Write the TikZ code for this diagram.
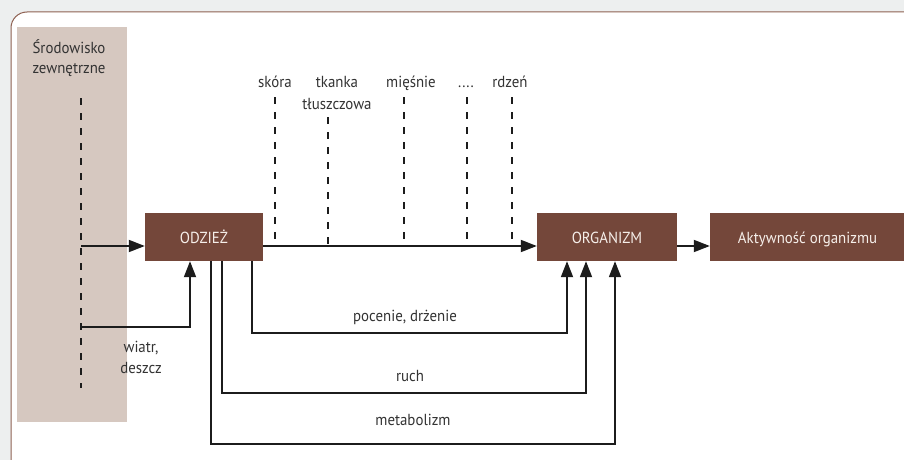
\documentclass[tikz,border=0pt]{standalone}
\usepackage{fontspec}
\setmainfont[FakeStretch=0.93]{PT Sans}
\usetikzlibrary{arrows.meta}
\definecolor{boxbrown}{HTML}{74473A}
\definecolor{boxtext}{HTML}{F6EFEA}
\definecolor{envfill}{HTML}{D6C8C0}
\definecolor{framecol}{HTML}{8E6152}
\definecolor{bggray}{HTML}{EDEFEF}
\definecolor{linecol}{HTML}{1C1C1C}
\definecolor{txtgray}{HTML}{333333}
\begin{document}
\begin{tikzpicture}[x=1pt,y=-1pt,
  box/.style={fill=boxbrown, text=boxtext, minimum height=48pt, inner sep=0pt,
    text height=12pt, text depth=0pt, font=\fontsize{16}{19}\selectfont},
  lbl/.style={text=txtgray, inner sep=0pt, anchor=base, font=\fontsize{16}{19}\selectfont},
  conn/.style={draw=linecol, line width=1.8pt, -{Triangle[length=16pt,width=12pt]}},
  wire/.style={draw=linecol, line width=1.8pt},
  dashline/.style={draw=linecol, line width=1.4pt, dash pattern=on 7pt off 8pt}]
\fill[bggray] (0,0) rectangle (904,460);
\useasboundingbox (0,0) rectangle (904,460);
\begin{scope}
  \clip (0,0) rectangle (904,460);
  \draw[draw=framecol, fill=white, line width=1pt, rounded corners=16pt] (11,12) rectangle (930,476);
\end{scope}
% environment column
\node[fill=envfill, anchor=north west, minimum width=110pt, minimum height=395pt, inner sep=0pt] (env) at (17,27) {};
\node[lbl] (envl1) at (69,53) {Środowisko};
\node[lbl] (envl2) at (69,74) {zewnętrzne};
\coordinate (ed1) at (81,98);
\coordinate (ed2) at (81,388);
\draw[dashline] (ed1) -- (ed2);
% boxes
\node[box, minimum width=118pt] (odz) at (204,237) {ODZIEŻ};
\node[box, minimum width=140pt] (org) at (607,237) {ORGANIZM};
\node[box, minimum width=195pt] (akt) at (807.5,237) {Aktywność organizmu};
% layer labels
\node[lbl] (skora) at (275,87) {skóra};
\node[lbl] (tkanka) at (337,87) {tkanka};
\node[lbl] (tluszcz) at (337,109) {tłuszczowa};
\node[lbl] (miesnie) at (411,87) {mięśnie};
\node[lbl] (dots) at (466,87) {....};
\node[lbl] (rdzen) at (510,87) {rdzeń};
\draw[dashline] (275,97) -- (275,246);
\draw[dashline] (328,117) -- (328,246);
\draw[dashline] (404,97) -- (404,246);
\draw[dashline] (467,97) -- (467,246);
\draw[dashline] (512,97) -- (512,246);
% arrows
\coordinate (ea) at (81,246);
\draw[conn] (ea) -- (ea -| odz.west);
\coordinate (eb) at (81,327);
\coordinate (wx) at (190,327);
\draw[conn] (eb) -- (wx) -- (wx |- odz.south);
\node[lbl] (wiatr) at (141,352) {wiatr,};
\node[lbl] (deszcz) at (141,373) {deszcz};
\draw[conn] (odz.east |- ea) -- (org.west |- ea);
\draw[conn] (org.east |- ea) -- (akt.west |- ea);
% feedback loops
\coordinate (p1) at (252,333);
\coordinate (p2) at (567,333);
\draw[conn] (p1 |- odz.south) -- (p1) -- (p2) -- (p2 |- org.south);
\node[lbl] (pocenie) at (405,321) {pocenie, drżenie};
\coordinate (r1) at (222,393);
\coordinate (r2) at (586,393);
\draw[conn] (r1 |- odz.south) -- (r1) -- (r2) -- (r2 |- org.south);
\node[lbl] (ruch) at (410,381) {ruch};
\coordinate (m1) at (211,444);
\coordinate (m2) at (615,444);
\draw[conn] (m1 |- odz.south) -- (m1) -- (m2) -- (m2 |- org.south);
\node[lbl] (metab) at (413,425) {metabolizm};
\end{tikzpicture}
\end{document}
